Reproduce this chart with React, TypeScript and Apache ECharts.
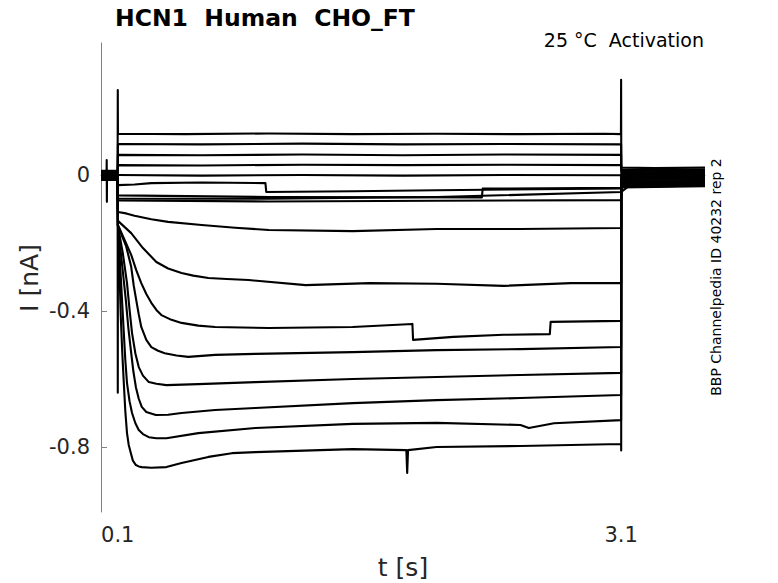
import React, { useEffect, useRef } from "react";
import * as echarts from "echarts";

// x ticks and y ticks
const X_TICKS = [0.1, 3.1];
const Y_TICKS = [-0.8, -0.4, 0];

// Sweeps: [t (s), I (nA)], top to bottom
const sweep01 = [[0, 0.012], [0.099, 0.012], [0.1, 0.25], [0.101, 0.121], [0.5, 0.12], [1.0, 0.122], [1.5, 0.12], [2.0, 0.121], [2.5, 0.12], [3.0, 0.121], [3.099, 0.12], [3.1, 0.28], [3.101, 0.022], [3.3, 0.02], [3.6, 0.022]];
const sweep02 = [[0, 0.009], [0.099, 0.009], [0.101, 0.091], [0.6, 0.09], [1.2, 0.092], [1.8, 0.09], [2.4, 0.091], [3.1, 0.09], [3.101, 0.016], [3.6, 0.017]];
const sweep03 = [[0, 0.006], [0.099, 0.006], [0.101, 0.059], [0.6, 0.058], [1.2, 0.06], [1.8, 0.058], [2.4, 0.06], [3.1, 0.059], [3.101, 0.012], [3.6, 0.013]];
const sweep04 = [[0, 0.003], [0.099, 0.003], [0.101, 0.029], [0.6, 0.028], [1.2, 0.03], [1.8, 0.029], [2.4, 0.03], [3.1, 0.029], [3.101, 0.008], [3.6, 0.009]];
const sweep05 = [[0, 0.0], [0.033, 0.0], [0.034, 0.044], [0.035, -0.079], [0.036, 0.0], [0.099, 0.0], [0.101, 0.0], [0.6, -0.002], [1.2, 0.0], [1.8, -0.002], [2.4, 0.0], [3.1, -0.001], [3.101, 0.004], [3.6, 0.005]];
const sweep06 = [[0, -0.003], [0.099, -0.003], [0.101, -0.03], [0.2, -0.028], [0.3, -0.024], [0.6, -0.022], [0.98, -0.024], [0.985, -0.05], [1.5, -0.048], [2.0, -0.045], [2.6, -0.042], [3.1, -0.04], [3.101, 0.0], [3.6, 0.001]];
const sweep07 = [[0, -0.006], [0.099, -0.006], [0.101, -0.06], [1.0, -0.065], [2.27, -0.066], [2.275, -0.04], [3.1, -0.038], [3.101, -0.004], [3.6, -0.003]];
const sweep08 = [[0, -0.009], [0.099, -0.009], [0.101, -0.075], [1.0, -0.078], [2.0, -0.076], [3.1, -0.074], [3.101, -0.008], [3.6, -0.007]];
const sweep09 = [[0, -0.011], [0.099, -0.011], [0.101, -0.07], [1.0, -0.07], [2.0, -0.065], [3.1, -0.05], [3.101, -0.012], [3.6, -0.011]];
const sweep10 = [[0, -0.013], [0.099, -0.013], [0.101, -0.109], [0.15, -0.113], [0.2, -0.12], [0.3, -0.13], [0.4, -0.138], [0.6, -0.147], [0.8, -0.155], [1.0, -0.162], [1.5, -0.165], [2.0, -0.159], [2.5, -0.159], [3.1, -0.156], [3.101, -0.016], [3.6, -0.015]];
const sweep11 = [[0, -0.014], [0.099, -0.014], [0.101, -0.135], [0.18, -0.171], [0.25, -0.215], [0.33, -0.256], [0.4, -0.275], [0.48, -0.288], [0.55, -0.296], [0.64, -0.303], [0.75, -0.306], [0.88, -0.309], [1.22, -0.324], [1.6, -0.318], [2.0, -0.32], [2.4, -0.326], [2.8, -0.318], [3.1, -0.318], [3.101, -0.02], [3.6, -0.018]];
const sweep12 = [[0, -0.015], [0.099, -0.015], [0.101, -0.147], [0.14, -0.19], [0.18, -0.235], [0.21, -0.28], [0.24, -0.318], [0.27, -0.35], [0.3, -0.376], [0.33, -0.397], [0.36, -0.412], [0.42, -0.426], [0.48, -0.435], [0.58, -0.443], [0.68, -0.447], [1.0, -0.45], [1.5, -0.447], [1.856, -0.438], [1.86, -0.485], [2.1, -0.476], [2.4, -0.47], [2.675, -0.468], [2.68, -0.432], [3.1, -0.429], [3.101, -0.024], [3.6, -0.021]];
const sweep13 = [[0, -0.013], [0.099, -0.013], [0.101, -0.15], [0.15, -0.21], [0.18, -0.27], [0.195, -0.325], [0.21, -0.368], [0.225, -0.41], [0.24, -0.447], [0.27, -0.485], [0.3, -0.506], [0.34, -0.517], [0.38, -0.524], [0.45, -0.531], [0.52, -0.535], [0.68, -0.529], [0.92, -0.526], [1.5, -0.521], [2.0, -0.515], [2.5, -0.512], [3.1, -0.506], [3.101, -0.027], [3.6, -0.024]];
const sweep14 = [[0, -0.01], [0.099, -0.01], [0.101, -0.15], [0.13, -0.23], [0.155, -0.318], [0.17, -0.395], [0.185, -0.465], [0.205, -0.525], [0.225, -0.565], [0.25, -0.59], [0.285, -0.609], [0.33, -0.614], [0.39, -0.618], [0.58, -0.615], [0.92, -0.609], [1.5, -0.6], [2.0, -0.594], [2.5, -0.588], [3.1, -0.582], [3.101, -0.03], [3.6, -0.027]];
const sweep15 = [[0, -0.008], [0.099, -0.008], [0.101, -0.15], [0.125, -0.26], [0.148, -0.368], [0.163, -0.45], [0.178, -0.515], [0.193, -0.578], [0.208, -0.624], [0.225, -0.658], [0.243, -0.682], [0.27, -0.697], [0.327, -0.706], [0.4, -0.705], [0.48, -0.7], [0.68, -0.691], [0.92, -0.685], [1.5, -0.671], [2.0, -0.662], [2.5, -0.656], [3.1, -0.647], [3.101, -0.033], [3.6, -0.03]];
const sweep16 = [[0, -0.005], [0.099, -0.005], [0.101, -0.15], [0.118, -0.3], [0.136, -0.465], [0.145, -0.545], [0.155, -0.612], [0.17, -0.665], [0.185, -0.7], [0.205, -0.73], [0.225, -0.75], [0.25, -0.762], [0.285, -0.771], [0.33, -0.774], [0.39, -0.774], [0.58, -0.759], [0.92, -0.744], [1.5, -0.732], [2.0, -0.729], [2.5, -0.735], [2.55, -0.744], [2.7, -0.73], [3.1, -0.721], [3.101, -0.037], [3.6, -0.033]];
const sweep17 = [[0, -0.002], [0.099, -0.002], [0.1, -0.64], [0.101, -0.15], [0.11, -0.28], [0.118, -0.418], [0.127, -0.525], [0.136, -0.612], [0.145, -0.695], [0.155, -0.759], [0.165, -0.793], [0.178, -0.818], [0.19, -0.84], [0.208, -0.853], [0.225, -0.857], [0.243, -0.859], [0.3, -0.861], [0.39, -0.859], [0.48, -0.847], [0.64, -0.829], [0.78, -0.818], [0.92, -0.815], [1.5, -0.806], [1.82, -0.809], [1.825, -0.876], [1.83, -0.809], [2.0, -0.8], [2.5, -0.797], [3.1, -0.791], [3.1005, -0.81], [3.101, -0.05], [3.14, -0.035], [3.6, -0.031]];

const SWEEPS = [sweep01, sweep02, sweep03, sweep04, sweep05, sweep06, sweep07, sweep08, sweep09, sweep10, sweep11, sweep12, sweep13, sweep14, sweep15, sweep16, sweep17];

const FONT = "'DejaVu Sans', sans-serif";

export default function App() {
  const ref = useRef<HTMLDivElement>(null);
  useEffect(() => {
    if (!ref.current) return;
    const chart = echarts.init(ref.current, undefined, { renderer: "svg" });
    chart.setOption({
      animation: false,
      backgroundColor: "#ffffff",
      grid: { left: 101, right: 73, top: 43, bottom: 71 },
      xAxis: {
        type: "value",
        min: 0,
        max: 3.6,
        splitLine: { show: false },
        axisLine: { show: true, lineStyle: { color: "#808080", width: 1 } },
        axisTick: { show: true, inside: true, length: 6, customValues: X_TICKS, lineStyle: { color: "#808080" } },
        axisLabel: {
          customValues: X_TICKS,
          formatter: (v: number) => String(v),
          color: "#262626",
          fontSize: 21,
          fontFamily: FONT,
          margin: 12,
        },
      },
      yAxis: {
        type: "value",
        min: -0.991,
        max: 0.388,
        splitLine: { show: false },
        axisLine: { show: true, lineStyle: { color: "#808080", width: 1 } },
        axisTick: { show: true, inside: true, length: 6, customValues: Y_TICKS, lineStyle: { color: "#808080" } },
        axisLabel: {
          customValues: Y_TICKS,
          formatter: (v: number) => String(v),
          color: "#262626",
          fontSize: 21,
          fontFamily: FONT,
          margin: 11,
        },
      },
      series: SWEEPS.map((d, i) => ({
        type: "line",
        name: "sweep" + (i + 1),
        data: d,
        showSymbol: false,
        symbol: "none",
        lineStyle: { color: "#000000", width: 2.1, join: "round" },
        silent: true,
      })),
      graphic: [
        {
          type: "text",
          x: 115,
          y: 18,
          style: { text: "HCN1  Human  CHO_FT", fill: "#000", fontSize: 23.5, fontWeight: "bold", fontFamily: FONT, align: "left", verticalAlign: "middle" },
        },
        {
          type: "text",
          x: 704,
          y: 40,
          style: { text: "25 °C  Activation", fill: "#000", fontSize: 19, fontFamily: FONT, align: "right", verticalAlign: "middle" },
        },
        {
          type: "text",
          x: 716,
          y: 277,
          rotation: Math.PI / 2,
          style: { text: "BBP Channelpedia ID 40232 rep 2", fill: "#000", fontSize: 14, fontFamily: FONT, align: "center", verticalAlign: "middle" },
        },
        {
          type: "text",
          x: 29,
          y: 278,
          rotation: Math.PI / 2,
          style: { text: "I [nA]", fill: "#262626", fontSize: 25, fontFamily: FONT, align: "center", verticalAlign: "middle" },
        },
        {
          type: "text",
          x: 403,
          y: 567,
          style: { text: "t [s]", fill: "#262626", fontSize: 25, fontFamily: FONT, align: "center", verticalAlign: "middle" },
        },
      ],
    });
    return () => chart.dispose();
  }, []);
  return <div ref={ref} style={{ position: "fixed", left: 0, top: 0, width: 778, height: 583, background: "#fff" }} />;
}
